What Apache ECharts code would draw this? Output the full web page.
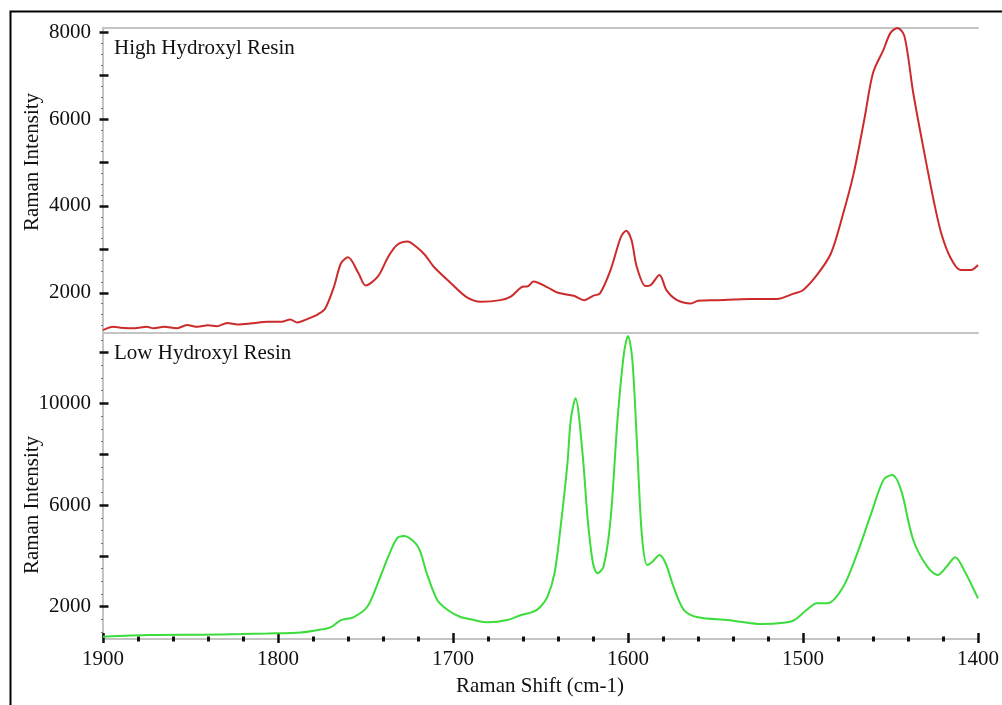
<!DOCTYPE html>
<html>
<head>
<meta charset="utf-8">
<script src="https://cdn.jsdelivr.net/npm/echarts@6/dist/echarts.min.js"></script>
<style>
  html, body { margin: 0; padding: 0; background: #ffffff; }
  #chart { width: 1002px; height: 705px; }
</style>
</head>
<body>
<div id="chart"></div>
<script>
// Raman spectra of two resins, 1900–1400 cm-1

const highShift = [1900, 1894, 1890, 1882, 1875, 1871, 1865, 1858, 1852, 1846, 1840, 1835, 1829, 1823, 1815, 1806, 1798, 1793, 1789, 1783, 1777, 1773, 1768, 1764, 1760, 1754, 1750, 1743, 1737, 1732, 1726, 1721, 1716, 1711, 1701, 1692, 1684, 1673, 1667, 1661, 1657, 1654, 1646, 1640, 1631, 1625, 1620, 1616, 1610, 1604, 1601, 1598, 1595, 1590, 1587, 1582, 1578, 1572, 1564, 1560, 1549, 1530, 1515, 1505, 1500, 1492, 1484, 1477, 1471, 1465, 1460, 1454, 1450, 1446, 1442, 1437, 1431, 1425, 1421, 1416, 1410, 1404, 1400];
const highIntensity = [1140, 1215, 1195, 1180, 1215, 1180, 1215, 1180, 1255, 1215, 1250, 1230, 1305, 1270, 1295, 1330, 1330, 1385, 1315, 1400, 1510, 1640, 2140, 2680, 2815, 2450, 2170, 2370, 2830, 3100, 3180, 3060, 2870, 2600, 2215, 1895, 1795, 1830, 1910, 2125, 2155, 2260, 2125, 2000, 1930, 1830, 1930, 1985, 2520, 3290, 3430, 3215, 2600, 2155, 2180, 2410, 2060, 1830, 1755, 1815, 1830, 1855, 1855, 1985, 2060, 2410, 2910, 3830, 4755, 5985, 7060, 7600, 7985, 8100, 7905, 6600, 5290, 4060, 3370, 2830, 2525, 2525, 2640];

const lowShift = [1900, 1873, 1844, 1821, 1806, 1787, 1777, 1770, 1764, 1757, 1749, 1743, 1737, 1732, 1728, 1720, 1715, 1709, 1703, 1696, 1688, 1680, 1669, 1661, 1654, 1650, 1646, 1642, 1638.5, 1634.6, 1632.7, 1630, 1626, 1623, 1620, 1617.5, 1614, 1610, 1606, 1602.3, 1600, 1597.5, 1594.6, 1592, 1589, 1586, 1582, 1578.5, 1574, 1568, 1560, 1543, 1536, 1524, 1511, 1505, 1498, 1492, 1486, 1477, 1469, 1461, 1454, 1449, 1444, 1437, 1429, 1423, 1418, 1413, 1408, 1400];
const lowIntensity = [820, 885, 900, 925, 950, 990, 1085, 1190, 1475, 1585, 2000, 2920, 3970, 4690, 4780, 4360, 3315, 2265, 1870, 1605, 1475, 1385, 1475, 1675, 1805, 2000, 2395, 3315, 5150, 7645, 9350, 10205, 8040, 5410, 3710, 3315, 3575, 5410, 9350, 11975, 12650, 11700, 8040, 4755, 3640, 3770, 4035, 3710, 2790, 1870, 1585, 1475, 1410, 1320, 1370, 1475, 1870, 2135, 2135, 2785, 4100, 5675, 6990, 7185, 6595, 4625, 3575, 3250, 3575, 3945, 3445, 2330];

// Axis ranges and tick values
const shiftRange = [1400, 1900];
const shiftLabels = [1900, 1800, 1700, 1600, 1500, 1400];
const highRange = [1080, 8105];
const highLabels = [2000, 4000, 6000, 8000];
const highTicks = [2000, 3000, 4000, 5000, 6000, 7000, 8000];
const lowRange = [730, 12780];
const lowLabels = [2000, 6000, 10000];
const lowTicks = [2000, 4000, 6000, 8000, 10000, 12000];

function steps(from, to, step, skip) {
  const out = [];
  for (let v = from; v <= to + 1e-9; v += step) {
    if (!skip || v % skip !== 0) out.push(v);
  }
  return out;
}
const shiftMinor = steps(1400, 1900, 20, 100);
const highDots = steps(1250, 8000, 250);
const lowDots = steps(1000, 12500, 500);

const FONT = '"Liberation Serif", "Times New Roman", serif';
const FONT_SIZE = 21;
const AXIS_GREY = '#c4c4c4';
const INK = '#111111';

const GRID_LEFT = 103, GRID_W = 875;
const TOP_Y = 27.7, SPLIT_Y = 332.7, BOTTOM_Y = 639;

const chart = echarts.init(document.getElementById('chart'), null, { renderer: 'canvas' });

function pairs(xs, ys) { return xs.map((x, i) => [x, ys[i]]); }
const plain = v => String(v);

const hidden = { show: false };

function baseX(grid, extra) {
  return Object.assign({
    type: 'value', gridIndex: grid, min: shiftRange[0], max: shiftRange[1], inverse: true,
    splitLine: hidden, axisLabel: hidden, axisTick: hidden, axisLine: hidden
  }, extra);
}
function baseY(grid, range, extra) {
  return Object.assign({
    type: 'value', gridIndex: grid, position: 'left', min: range[0], max: range[1],
    splitLine: hidden, axisLabel: hidden, axisTick: hidden, axisLine: hidden
  }, extra);
}
const labelStyle = (values) => ({
  show: true, customValues: values, formatter: plain,
  fontFamily: FONT, fontSize: FONT_SIZE, color: INK
});

const option = {
  animation: false,
  backgroundColor: '#ffffff',
  grid: [
    { left: GRID_LEFT, top: TOP_Y, width: GRID_W, height: SPLIT_Y - TOP_Y },
    { left: GRID_LEFT, top: SPLIT_Y, width: GRID_W, height: BOTTOM_Y - SPLIT_Y }
  ],
  xAxis: [
    // 0: top panel, separator line at its bottom
    baseX(0, { position: 'bottom', axisLine: { show: true, onZero: false, lineStyle: { color: AXIS_GREY, width: 2 } } }),
    // 1: top panel, upper border line
    baseX(0, { position: 'top', axisLine: { show: true, onZero: false, lineStyle: { color: AXIS_GREY, width: 2 } } }),
    // 2: bottom panel axis line with labels
    baseX(1, {
      position: 'bottom',
      axisLine: { show: true, onZero: false, lineStyle: { color: AXIS_GREY, width: 2 } },
      axisLabel: Object.assign(labelStyle(shiftLabels), { margin: 10 })
    }),
    // 3: major ticks
    baseX(1, {
      position: 'bottom', offset: 4,
      axisTick: { show: true, inside: true, length: 10, customValues: shiftLabels, lineStyle: { color: INK, width: 2.5 } }
    }),
    // 4: minor ticks
    baseX(1, {
      position: 'bottom', offset: 2.5,
      axisTick: { show: true, inside: true, length: 5, customValues: shiftMinor, lineStyle: { color: INK, width: 3 } }
    })
  ],
  yAxis: [
    // 0: top panel axis line, dotted minor ticks, labels
    baseY(0, highRange, {
      axisLine: { show: true, onZero: false, lineStyle: { color: AXIS_GREY, width: 2 } },
      axisTick: { show: true, length: 2, customValues: highDots, lineStyle: { color: '#777777', width: 1.2 } },
      axisLabel: Object.assign(labelStyle(highLabels), { margin: 12 })
    }),
    // 1: top panel major ticks
    baseY(0, highRange, {
      offset: 3.5,
      axisTick: { show: true, inside: true, length: 9, customValues: highTicks, lineStyle: { color: INK, width: 2.5 } }
    }),
    // 2: bottom panel axis line, dotted minor ticks, labels
    baseY(1, lowRange, {
      axisLine: { show: true, onZero: false, lineStyle: { color: AXIS_GREY, width: 2 } },
      axisTick: { show: true, length: 2, customValues: lowDots, lineStyle: { color: '#777777', width: 1.2 } },
      axisLabel: Object.assign(labelStyle(lowLabels), { margin: 12 })
    }),
    // 3: bottom panel major ticks
    baseY(1, lowRange, {
      offset: 3.5,
      axisTick: { show: true, inside: true, length: 9, customValues: lowTicks, lineStyle: { color: INK, width: 2.5 } }
    })
  ],
  series: [
    {
      name: 'High Hydroxyl Resin', type: 'line', xAxisIndex: 0, yAxisIndex: 0,
      data: pairs(highShift, highIntensity), showSymbol: false, smooth: 0.3,
      lineStyle: { color: '#cc2b2b', width: 2 }, itemStyle: { color: '#cc2b2b' }
    },
    {
      name: 'Low Hydroxyl Resin', type: 'line', xAxisIndex: 2, yAxisIndex: 2,
      data: pairs(lowShift, lowIntensity), showSymbol: false, smooth: 0.3,
      lineStyle: { color: '#3cdc3c', width: 2 }, itemStyle: { color: '#3cdc3c' }
    }
  ],
  graphic: [
    {
      type: 'rect', silent: true, z: 100,
      shape: { x: 10.5, y: 11.5, width: 1200, height: 900 },
      style: { fill: 'none', stroke: '#000000', lineWidth: 2 }
    },
    {
      type: 'text', x: 114, y: 48.5, silent: true,
      style: { text: 'High Hydroxyl Resin', font: FONT_SIZE + 'px ' + FONT, fill: INK, align: 'left', verticalAlign: 'middle' }
    },
    {
      type: 'text', x: 114, y: 353.5, silent: true,
      style: { text: 'Low Hydroxyl Resin', font: FONT_SIZE + 'px ' + FONT, fill: INK, align: 'left', verticalAlign: 'middle' }
    },
    {
      type: 'text', x: 32, y: 162, rotation: Math.PI / 2, silent: true,
      style: { text: 'Raman Intensity', font: FONT_SIZE + 'px ' + FONT, fill: INK, align: 'center', verticalAlign: 'middle' }
    },
    {
      type: 'text', x: 32, y: 505, rotation: Math.PI / 2, silent: true,
      style: { text: 'Raman Intensity', font: FONT_SIZE + 'px ' + FONT, fill: INK, align: 'center', verticalAlign: 'middle' }
    },
    {
      type: 'text', x: 540, y: 686, silent: true,
      style: { text: 'Raman Shift (cm-1)', font: FONT_SIZE + 'px ' + FONT, fill: INK, align: 'center', verticalAlign: 'middle' }
    }
  ]
};

chart.setOption(option);
</script>
</body>
</html>
